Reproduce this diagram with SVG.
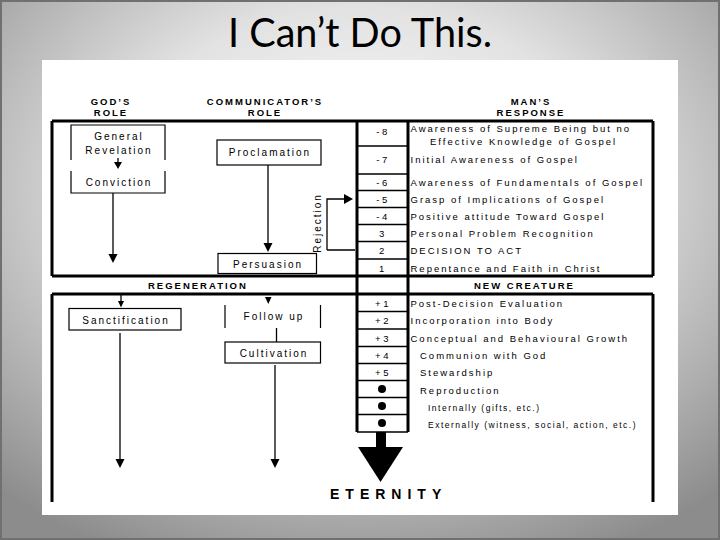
<svg xmlns="http://www.w3.org/2000/svg" width="720" height="540" viewBox="0 0 720 540">
<defs>
<radialGradient id="bg" cx="50%" cy="35%" r="75%">
<stop offset="0" stop-color="#ffffff"/>
<stop offset="0.45" stop-color="#e2e2e2"/>
<stop offset="1" stop-color="#8c8c8c"/>
</radialGradient>
<style>
.hdr{font-family:"Liberation Sans",Arial,sans-serif;font-weight:bold;font-size:9.5px;letter-spacing:2px;fill:#000}
.lbl{font-family:"Liberation Sans",Arial,sans-serif;font-size:9.5px;letter-spacing:2px;fill:#000}
.sm{font-family:"Liberation Sans",Arial,sans-serif;font-size:8.5px;letter-spacing:1.5px;fill:#000}
.bx{font-family:"Liberation Sans",Arial,sans-serif;font-size:10px;letter-spacing:2px;fill:#000;text-anchor:middle}
.num{font-family:"Liberation Sans",Arial,sans-serif;font-size:9.5px;letter-spacing:2.5px;fill:#000;text-anchor:middle}
.frame{fill:none;stroke:#000;stroke-width:3}
.thin{fill:none;stroke:#000;stroke-width:1.2}
.row{fill:none;stroke:#000;stroke-width:1.4}
.conn{fill:none;stroke:#000;stroke-width:1.3}
.head{fill:#000}
</style>
</defs>
<rect x="0" y="0" width="720" height="540" fill="url(#bg)"/>
<rect x="1" y="1" width="718" height="538" fill="none" stroke="#707070" stroke-width="2"/>
<text x="360" y="47" font-family="Lato,'Liberation Sans',sans-serif" font-size="40" text-anchor="middle" textLength="264" lengthAdjust="spacingAndGlyphs" fill="#000">I Can’t Do This.</text>
<rect x="42" y="60" width="636" height="455" fill="#ffffff"/>

<g id="headers">
<text class="hdr" x="111" y="104.5" text-anchor="middle">GOD’S</text>
<text class="hdr" x="111" y="115.5" text-anchor="middle">ROLE</text>
<text class="hdr" x="265" y="104.5" text-anchor="middle">COMMUNICATOR’S</text>
<text class="hdr" x="265" y="115.5" text-anchor="middle">ROLE</text>
<text class="hdr" x="531" y="104.5" text-anchor="middle">MAN’S</text>
<text class="hdr" x="531" y="116" text-anchor="middle">RESPONSE</text>
</g>

<g id="frame">
<path class="frame" d="M52,121 H653 M52,121 V276 M653,121 V276"/>
<path class="frame" stroke-width="2.5" d="M52,276 H653"/>
<path class="frame" stroke-width="2.2" d="M52,294 H653"/>
<path class="frame" d="M52,294 V502 M653,294 V502"/>
<text class="hdr" x="148" y="288.5" letter-spacing="3">REGENERATION</text>
<text class="hdr" x="474" y="288.5" letter-spacing="2.8">NEW CREATURE</text>
</g>

<g id="scale-column">
<path class="frame" stroke-width="2.5" d="M357,121 V432"/>
<path class="frame" stroke-width="1.5" d="M408,121 V432"/>
<path class="row" d="M357,146 H408 M357,174 H408 M357,190.5 H408 M357,207.5 H408 M357,224.5 H408 M357,241.5 H408 M357,259 H408 M357,311.5 H408 M357,329 H408 M357,346.5 H408 M357,363.5 H408 M357,380.5 H408 M357,397.5 H408 M357,414.5 H408 M357,432 H408"/>
<text class="num" x="383" y="134.5">-8</text>
<text class="num" x="383" y="162.5">-7</text>
<text class="num" x="383" y="185.5">-6</text>
<text class="num" x="383" y="202.5">-5</text>
<text class="num" x="383" y="219.5">-4</text>
<text class="num" x="383" y="236.5">3</text>
<text class="num" x="383" y="253.5">2</text>
<text class="num" x="383" y="271.5">1</text>
<text class="num" x="383" y="306.5">+1</text>
<text class="num" x="383" y="323.5">+2</text>
<text class="num" x="383" y="341.5">+3</text>
<text class="num" x="383" y="358.5">+4</text>
<text class="num" x="383" y="375.5">+5</text>
<circle cx="382" cy="389" r="4"/>
<circle cx="382" cy="406" r="4"/>
<circle cx="382" cy="423" r="4"/>
</g>

<g id="responses">
<text class="lbl" x="410.5" y="131.5">Awareness of Supreme Being but no</text>
<text class="lbl" x="430" y="144.5">Effective Knowledge of Gospel</text>
<text class="lbl" x="410.5" y="162.5">Initial Awareness of Gospel</text>
<text class="lbl" x="410.5" y="185.5">Awareness of Fundamentals of Gospel</text>
<text class="lbl" x="410.5" y="202.5">Grasp of Implications of Gospel</text>
<text class="lbl" x="410.5" y="219.5">Positive attitude Toward Gospel</text>
<text class="lbl" x="410.5" y="236.5">Personal Problem Recognition</text>
<text class="lbl" x="410.5" y="253.5">DECISION TO ACT</text>
<text class="lbl" x="410.5" y="271.5">Repentance and Faith in Christ</text>
<text class="lbl" x="410.5" y="306.5">Post-Decision Evaluation</text>
<text class="lbl" x="410.5" y="323.5">Incorporation into Body</text>
<text class="lbl" x="410.5" y="341.5">Conceptual and Behavioural Growth</text>
<text class="lbl" x="420" y="358.5">Communion with God</text>
<text class="lbl" x="420" y="375.5">Stewardship</text>
<text class="lbl" x="420" y="393.5">Reproduction</text>
<text class="sm" x="428" y="410.5">Internally (gifts, etc.)</text>
<text class="sm" x="428" y="427.5">Externally (witness, social, action, etc.)</text>
</g>

<g id="general-revelation">
<path class="thin" d="M71,160 V125 H165 V160"/>
<text class="bx" x="119" y="140">General</text>
<text class="bx" x="119" y="153.5">Revelation</text>
</g>
<g id="conviction">
<path class="thin" d="M71,171 V193 H165 V171"/>
<text class="bx" x="119" y="185.5">Conviction</text>
</g>
<g id="proclamation">
<rect class="thin" x="217" y="140" width="104" height="25" fill="#fff"/>
<text class="bx" x="270" y="156">Proclamation</text>
</g>
<g id="persuasion">
<rect class="thin" x="218" y="253.5" width="98.5" height="20" fill="#fff"/>
<text class="bx" x="268" y="267.5">Persuasion</text>
</g>
<g id="sanctification">
<rect class="thin" x="69" y="308.5" width="112" height="21.5" fill="#fff"/>
<text class="bx" x="126" y="323.5">Sanctification</text>
</g>
<g id="follow-up">
<path class="thin" d="M225,305 V328 M320.5,305 V328"/>
<text class="bx" x="274" y="320">Follow up</text>
</g>
<g id="cultivation">
<rect class="thin" x="225" y="342" width="95.5" height="21" fill="#fff"/>
<text class="bx" x="274" y="356.5">Cultivation</text>
</g>
<g id="rejection">
<text class="bx" transform="translate(321,223) rotate(-90)" letter-spacing="1.2">Rejection</text>
</g>
<g id="eternity">
<text font-family="'Liberation Sans',Arial,sans-serif" font-weight="bold" font-size="14" letter-spacing="6" x="330" y="499">ETERNITY</text>
</g>

<g id="connectors">
<path class="conn" d="M118,158 V163"/>
<polygon class="head" points="114,162 122,162 118,169"/>
<path class="conn" d="M113,193 V255"/>
<polygon class="head" points="108.5,254 117.5,254 113,263"/>
<path class="conn" stroke-width="2" d="M268,165 V244"/>
<polygon class="head" points="263.5,243 272.5,243 268,252"/>
<path class="conn" d="M327,250 V199 H345 M327,250 H355"/>
<polygon class="head" points="344,194 353,199 344,204"/>
<path class="conn" d="M121,294 V302"/>
<polygon class="head" points="118,301 124,301 121,307.5"/>
<polygon class="head" points="265,297 271.5,297 268.3,304"/>
<path class="conn" stroke-width="2" d="M120,333 V461"/>
<polygon class="head" points="115.5,459 124.5,459 120,468"/>
<path class="conn" d="M276.5,328 V342"/>
<path class="conn" stroke-width="2" d="M275,365 V461"/>
<polygon class="head" points="270.5,459 279.5,459 275,468"/>
<rect x="376" y="432" width="10" height="16" fill="#000"/>
<polygon class="head" points="358,447 403,447 380.5,482"/>
</g>
</svg>
